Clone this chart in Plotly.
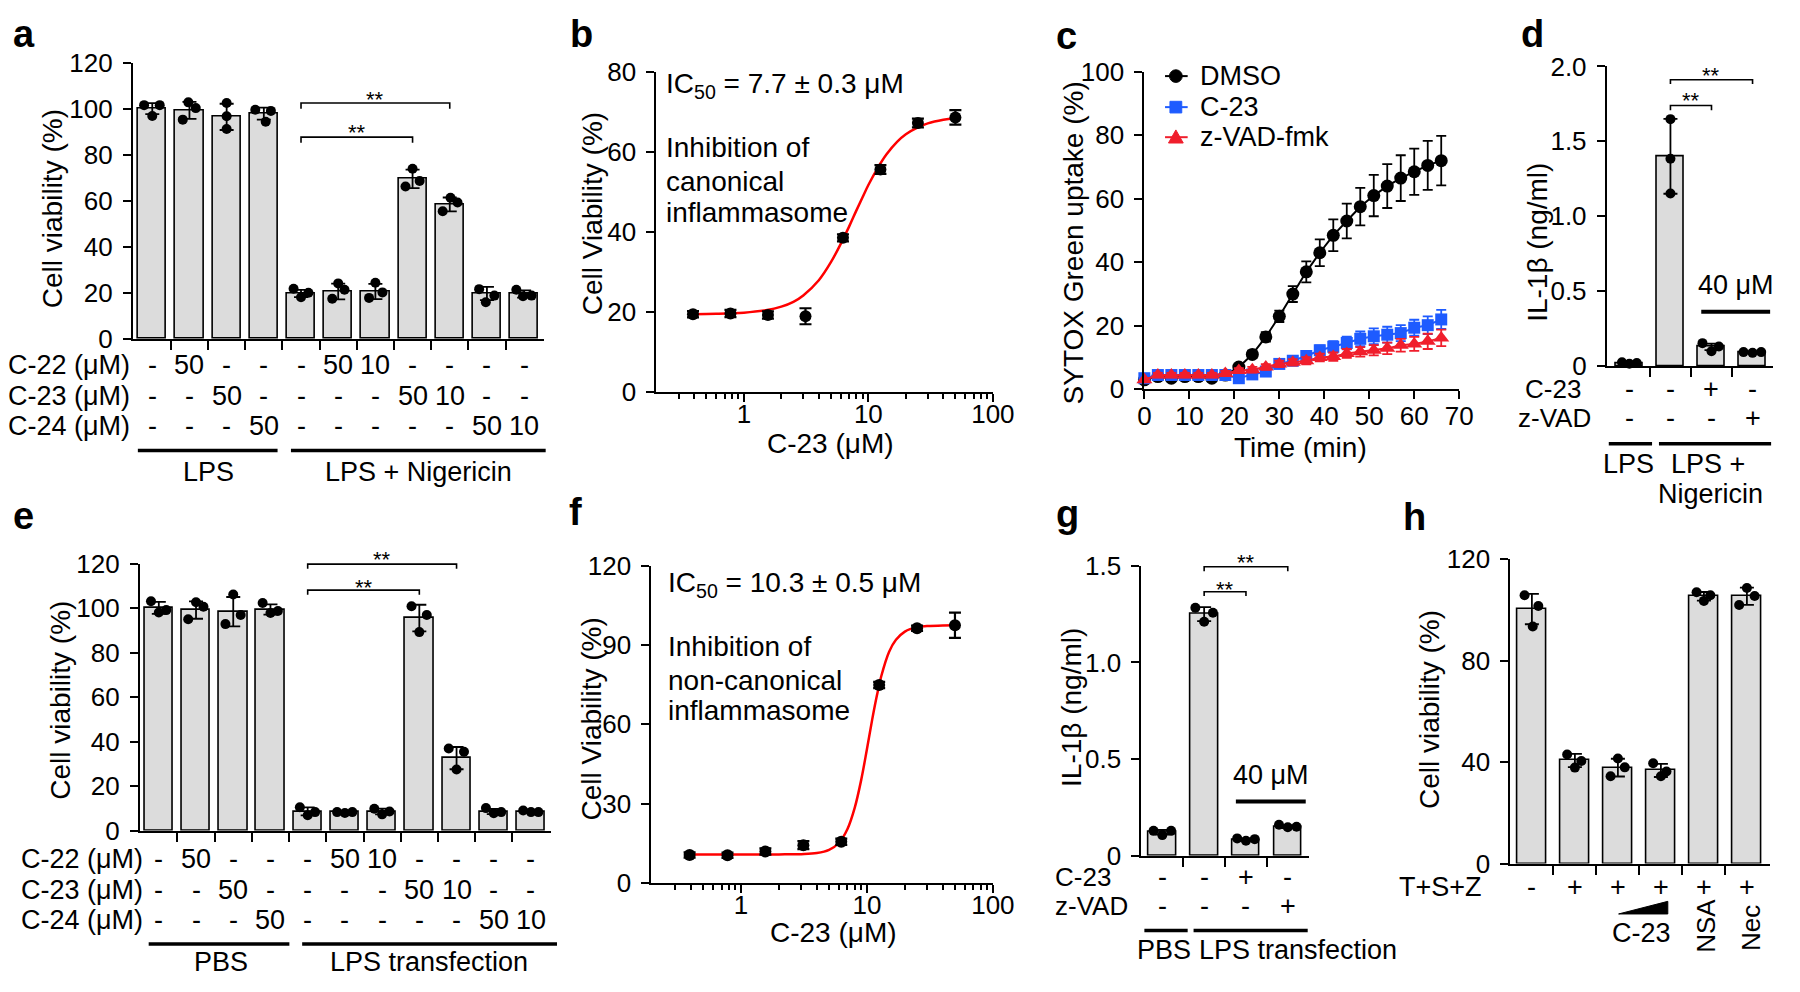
import plotly.graph_objects as go

W, H = 1800, 992
FONT = "Liberation Sans, Arial, Helvetica, sans-serif"
FILL = "#DCDCDC"
BLUE = "#1E5BFF"
RED = "#F01E2C"
CURVE = "#FF0000"

# ======================= DATA =======================
# --- a: canonical inflammasome (LPS / LPS + Nigericin), cell viability (%)
a_means = [100.0, 99.2, 96.4, 97.8, 19.7, 20.6, 20.6, 69.5, 58.4, 19.7, 19.5]
a_sd = [2.4, 3.7, 5.7, 2.6, 1.6, 3.4, 3.3, 4.0, 3.0, 2.9, 1.6]
a_points = [[101.5, 96.8, 101.5], [95.2, 102.7, 100.2], [102.4, 96.7, 91.1],
            [99.5, 94.3, 99.0], [21.8, 18.1, 20.0], [17.4, 24.1, 21.3],
            [17.8, 24.4, 20.2], [66.2, 73.9, 68.6], [55.4, 61.3, 59.2],
            [21.6, 15.9, 18.8], [21.3, 18.5, 18.8]]
a_c22 = ["-", "50", "-", "-", "-", "50", "10", "-", "-", "-", "-"]
a_c23 = ["-", "-", "50", "-", "-", "-", "-", "50", "10", "-", "-"]
a_c24 = ["-", "-", "-", "50", "-", "-", "-", "-", "-", "50", "10"]
a_rows = ["C-22 (μM)", "C-23 (μM)", "C-24 (μM)"]
a_groups = ["LPS", "LPS + Nigericin"]

# --- b: dose response, canonical
b_conc = [0.39, 0.78, 1.56, 3.125, 6.25, 12.5, 25, 50]
b_viab = [19.5, 19.7, 19.3, 19.0, 38.6, 55.7, 67.3, 68.7]
b_sd = [0.8, 0.9, 0.9, 2.0, 0.9, 1.1, 1.1, 1.8]
b_fit_x = [0.39, 0.6, 1, 1.5, 2, 2.5, 3, 4, 5, 6, 7, 8, 9, 10, 12, 14, 17, 20, 25, 30, 40, 50]
b_fit_y = [19.5, 19.6, 19.9, 20.5, 21.4, 22.6, 24.2, 28.0, 32.5, 37.1, 41.4, 45.4, 48.8,
           51.8, 56.3, 59.5, 62.6, 64.5, 66.2, 67.2, 68.1, 68.5]

# --- c: SYTOX Green uptake time course
c_time = [0, 3, 6, 9, 12, 15, 18, 21, 24, 27, 30, 33, 36, 39, 42, 45, 48, 51, 54, 57, 60, 63, 66]
c_dmso = [3.0, 4.0, 3.5, 4.0, 4.0, 3.5, 4.5, 7.0, 11.0, 16.5, 23.0, 30.0, 37.0, 43.0,
          48.5, 53.0, 57.5, 61.0, 64.0, 66.5, 68.5, 70.5, 72.0]
c_dmso_sd = [0.8, 0.8, 0.8, 0.8, 0.8, 0.8, 0.8, 1.0, 1.2, 1.5, 1.8, 2.5, 3.3, 4.2,
             5.0, 5.5, 5.9, 6.5, 6.9, 7.2, 7.3, 7.7, 7.8]
c_c23 = [3.5, 4.5, 4.5, 4.5, 4.5, 4.5, 4.5, 3.5, 4.7, 5.6, 8.0, 9.0, 10.5, 12.3,
         13.4, 14.6, 15.9, 16.7, 17.2, 17.7, 19.4, 20.2, 22.0]
c_c23_sd = [0.8, 0.8, 0.8, 0.8, 0.8, 0.8, 0.8, 0.8, 0.9, 1.0, 1.0, 1.2, 1.3, 1.5,
            1.8, 2.0, 2.3, 2.5, 2.5, 2.5, 2.5, 2.8, 3.0]
c_zvad = [3.0, 4.5, 4.5, 4.5, 4.5, 4.5, 5.0, 5.9, 6.2, 7.0, 8.0, 8.5, 9.0, 10.0,
          10.3, 11.3, 11.8, 12.3, 12.9, 13.9, 14.3, 15.1, 16.2]
c_zvad_sd = [0.6, 0.7, 0.7, 0.7, 0.7, 0.7, 0.8, 0.8, 0.9, 0.9, 1.0, 1.0, 1.1, 1.2,
             1.3, 1.4, 1.5, 1.6, 1.8, 2.0, 2.2, 2.4, 2.6]
c_names = ["DMSO", "C-23", "z-VAD-fmk"]

# --- d: IL-1β, canonical
d_means = [0.02, 1.40, 0.128, 0.092]
d_sd = [0.006, 0.25, 0.022, 0.004]
d_points = [[0.025, 0.015, 0.02], [1.648, 1.383, 1.152], [0.153, 0.099, 0.131], [0.093, 0.088, 0.093]]
d_c23 = ["-", "-", "+", "-"]
d_zvad = ["-", "-", "-", "+"]

# --- e: non-canonical (PBS / LPS transfection)
e_means = [100.2, 99.2, 98.5, 99.5, 8.6, 8.3, 8.6, 95.6, 32.6, 8.6, 8.6]
e_sd = [2.7, 3.9, 6.6, 2.3, 1.8, 0.3, 1.3, 6.0, 5.0, 1.2, 0.5]
e_points = [[103.2, 98.1, 99.2], [95.1, 102.7, 100.7], [92.9, 106.2, 97.0],
            [102.4, 97.9, 98.8], [10.5, 6.9, 8.3], [8.3, 7.9, 8.3], [9.8, 7.3, 8.6],
            [100.9, 89.3, 97.0], [36.9, 27.5, 35.5], [10.1, 7.8, 8.3], [9.0, 8.3, 8.3]]
e_c22 = ["-", "50", "-", "-", "-", "50", "10", "-", "-", "-", "-"]
e_c23 = ["-", "-", "50", "-", "-", "-", "-", "50", "10", "-", "-"]
e_c24 = ["-", "-", "-", "50", "-", "-", "-", "-", "-", "50", "10"]
e_groups = ["PBS", "LPS transfection"]

# --- f: dose response, non-canonical
f_conc = [0.39, 0.78, 1.56, 3.125, 6.25, 12.5, 25, 50]
f_viab = [10.6, 10.5, 11.9, 14.3, 15.6, 74.9, 96.4, 97.5]
f_sd = [1.0, 1.0, 1.2, 1.5, 1.2, 1.2, 1.0, 4.8]
f_fit_x = [0.39, 1, 2, 3, 4, 5, 6, 7, 8, 9, 10, 11, 12, 13, 15, 17, 20, 25, 30, 40, 50]
f_fit_y = [10.8, 10.8, 10.8, 10.9, 11.3, 12.5, 15.2, 20.4, 28.5, 39.0, 50.7, 61.8,
           71.0, 78.3, 87.5, 92.0, 95.1, 96.8, 97.2, 97.45, 97.5]

# --- g: IL-1β, non-canonical
g_means = [0.122, 1.250, 0.083, 0.150]
g_sd = [0.012, 0.036, 0.006, 0.007]
g_points = [[0.129, 0.107, 0.129], [1.283, 1.211, 1.257], [0.090, 0.078, 0.086], [0.161, 0.148, 0.150]]
g_c23 = ["-", "-", "+", "-"]
g_zvad = ["-", "-", "-", "+"]

# --- h: necroptosis (T+S+Z)
h_means = [100.3, 40.6, 37.8, 36.7, 105.3, 105.3]
h_sd = [6.0, 2.6, 3.5, 2.6, 1.7, 3.4]
h_points = [[105.7, 93.4, 101.5], [43.0, 37.8, 40.4], [34.4, 41.4, 37.9],
            [39.5, 34.4, 36.3], [106.9, 103.5, 105.7], [101.9, 108.6, 105.4]]
h_tsz = ["-", "+", "+", "+", "+", "+"]

# ======================= STYLE / GEOMETRY =======================
a_jit = [[-0.22, 0, 0.2], [-0.18, -0.03, 0.17], [0, 0, 0], [-0.23, 0.05, 0.19],
         [-0.2, 0, 0.2], [-0.16, 0, 0.17], [-0.17, 0, 0.19], [-0.19, 0, 0.19],
         [-0.19, 0.02, 0.21], [-0.21, -0.03, 0.2], [-0.21, -0.03, 0.2]]
e_jit = [[-0.21, 0, 0.2]] * 11
d_jit = [[-0.18, 0, 0.18], [0, 0, 0], [-0.22, 0, 0.18], [-0.22, 0, 0.21]]
g_jit = [[-0.21, 0, 0.21]] * 4
h_jit = [[-0.17, 0.02, 0.15], [-0.18, 0, 0.15], [-0.17, 0, 0.16],
         [-0.18, 0, 0.13], [-0.17, 0, 0.15], [-0.18, 0, 0.18]]

G = {
    1: dict(x0=128, x1=546, yt=49, yb=334, xr=[-0.52, 10.54], yr=[0, 120]),
    2: dict(x0=660, x1=1002, yt=59, yb=389, xr=[-0.703, 2.0], yr=[0, 80]),
    3: dict(x0=1156, x1=1476, yt=58.5, yb=386, xr=[0, 70], yr=[0, 100]),
    4: dict(x0=1626, x1=1795, yt=53, yb=362, xr=[-0.55, 3.5], yr=[0, 2.0]),
    5: dict(x0=135, x1=553, yt=566, yb=841, xr=[-0.51, 10.54], yr=[0, 120]),
    6: dict(x0=655, x1=1002, yt=568, yb=895, xr=[-0.712, 2.0], yr=[0, 120]),
    7: dict(x0=1153, x1=1323, yt=568, yb=867, xr=[-0.5, 3.5], yr=[0, 1.5]),
    8: dict(x0=1528, x1=1792, yt=561, yb=875, xr=[-0.5, 5.54], yr=[0, 120]),
}
TICK = 26
ROW = 27

fig = go.Figure()
shapes, anns = [], []


def ids(n):
    return ("x", "y") if n == 1 else (f"x{n}", f"y{n}")


def gx(n, v):
    g = G[n]
    r0, r1 = g["xr"]
    return g["x0"] + (v - r0) / (r1 - r0) * (g["x1"] - g["x0"])


def gy(n, v):
    g = G[n]
    r0, r1 = g["yr"]
    return g["yb"] - (v - r0) / (r1 - r0) * (g["yb"] - g["yt"])


def T(text, x, y, size=ROW, xa="center", ya="middle", angle=0, bold=False):
    anns.append(dict(text=("<b>%s</b>" % text) if bold else text, x=x / W, y=1 - y / H,
                     xref="paper", yref="paper", xanchor=xa, yanchor=ya, textangle=angle,
                     showarrow=False, font=dict(family=FONT, size=size, color="black")))


def hline(x0, x1, y, w=3.5, color="black"):
    shapes.append(dict(type="line", xref="paper", yref="paper", x0=x0 / W, x1=x1 / W,
                       y0=1 - y / H, y1=1 - y / H, line=dict(color=color, width=w)))


def bracket(n, i0, i1, yh, yl, star_y):
    X0, X1, YH, YL = gx(n, i0), gx(n, i1), gy(n, yh), gy(n, yl)
    p = "M %f,%f L %f,%f L %f,%f L %f,%f" % (X0 / W, 1 - YL / H, X0 / W, 1 - YH / H,
                                             X1 / W, 1 - YH / H, X1 / W, 1 - YL / H)
    shapes.append(dict(type="path", xref="paper", yref="paper", path=p,
                       line=dict(color="black", width=1.6)))
    T("**", (X0 + X1) / 2, star_y + 5, size=22)


def base_axis(**kw):
    d = dict(showline=True, linecolor="black", linewidth=2, ticks="outside", ticklen=8,
             tickwidth=2, tickcolor="black", showgrid=False, zeroline=False,
             tickfont=dict(family=FONT, size=TICK, color="black"), fixedrange=True)
    d.update(kw)
    return d


layout_axes = {}


def set_axes(n, xkw, ykw):
    g = G[n]
    xa, ya = ids(n)
    kx = "xaxis" if n == 1 else f"xaxis{n}"
    ky = "yaxis" if n == 1 else f"yaxis{n}"
    layout_axes[kx] = base_axis(domain=[g["x0"] / W, g["x1"] / W], anchor=ya, range=g["xr"], **xkw)
    layout_axes[ky] = base_axis(domain=[1 - g["yb"] / H, 1 - g["yt"] / H], anchor=xa,
                                range=g["yr"], ticklabelstandoff=5, **ykw)


def bar_panel(n, means, sd, pts, jit, width, yticks, yticktext=None):
    xa, ya = ids(n)
    xs = list(range(len(means)))
    fig.add_trace(go.Bar(x=xs, y=means, width=width, xaxis=xa, yaxis=ya, showlegend=False,
                         marker=dict(color=FILL, line=dict(color="black", width=1.6)),
                         hoverinfo="skip"))
    fig.add_trace(go.Scatter(x=xs, y=means, mode="markers", xaxis=xa, yaxis=ya, showlegend=False,
                             marker=dict(size=2, color="rgba(0,0,0,0)"), cliponaxis=False,
                             error_y=dict(type="data", array=sd, visible=True, color="black",
                                          thickness=1.8, width=7)))
    dx, dy = [], []
    for i, (vals, jj) in enumerate(zip(pts, jit)):
        for v, j in zip(vals, jj):
            dx.append(i + j)
            dy.append(v)
    fig.add_trace(go.Scatter(x=dx, y=dy, mode="markers", xaxis=xa, yaxis=ya, showlegend=False,
                             marker=dict(size=10, color="black"), cliponaxis=False))
    set_axes(n,
             dict(type="linear", tickvals=[i + 0.5 for i in range(len(means) - 1)],
                  showticklabels=False, ticklen=9),
             dict(tickvals=yticks, ticktext=yticktext if yticktext else [str(v) for v in yticks]))


def dose_panel(n, conc, viab, sd, fx, fy, yticks):
    xa, ya = ids(n)
    fig.add_trace(go.Scatter(x=fx, y=fy, mode="lines", line=dict(color=CURVE, width=2.5, shape="spline"),
                             xaxis=xa, yaxis=ya, showlegend=False))
    fig.add_trace(go.Scatter(x=conc, y=viab, mode="markers", xaxis=xa, yaxis=ya, showlegend=False,
                             marker=dict(size=12, color="black"), cliponaxis=False,
                             error_y=dict(type="data", array=sd, visible=True, color="black",
                                          thickness=2.2, width=6)))
    minor_vals = [0.3, 0.4, 0.5, 0.6, 0.7, 0.8, 0.9, 2, 3, 4, 5, 6, 7, 8, 9,
                  20, 30, 40, 50, 60, 70, 80, 90]
    set_axes(n,
             dict(type="log", tickvals=[1, 10, 100], ticktext=["1", "10", "100"],
                  ticklabelstandoff=-10,
                  minor=dict(ticks="outside", ticklen=5, tickwidth=1.6, tickcolor="black",
                             tickvals=minor_vals, showgrid=False)),
             dict(tickvals=yticks, ticktext=[str(v) for v in yticks]))


# ---------------- panel a ----------------
bar_panel(1, a_means, a_sd, a_points, a_jit, 0.76, [0, 20, 40, 60, 80, 100, 120])
for row, vals, yy in zip(a_rows, [a_c22, a_c23, a_c24], [361, 392.5, 424]):
    T(row, 127, yy, xa="right")
    for i, v in enumerate(vals):
        T(v, gx(1, i), yy)
hline(133, 275, 449)
hline(288.6, 547.5, 449)
T(a_groups[0], 205, 471, size=27)
T(a_groups[1], 418, 471, size=27)
bracket(1, 4, 8, 102.4, 99.9, 81.7)
bracket(1, 4, 7, 87.6, 85.2, 116)
T("Cell viability (%)", 47, 200, size=28, angle=-90)

# ---------------- panel b ----------------
dose_panel(2, b_conc, b_viab, b_sd, b_fit_x, b_fit_y, [0, 20, 40, 60, 80])
T("Cell Viability (%)", 595, 205, size=28, angle=-90)
T("C-23 (μM)", 837, 442, size=28)
T("IC<sub>50</sub> = 7.7 ± 0.3 μM", 668, 73, size=28, xa="left")
T("Inhibition of", 668, 137, size=28, xa="left")
T("canonical", 668, 172, size=28, xa="left")
T("inflammasome", 668, 204, size=28, xa="left")

# ---------------- panel c ----------------
c_styles = [("black", "circle", 13), (BLUE, "square", 12), (RED, "triangle-up", 14)]
for name, ys, sds, (col, sym, msz) in zip(c_names, [c_dmso, c_c23, c_zvad],
                                          [c_dmso_sd, c_c23_sd, c_zvad_sd], c_styles):
    fig.add_trace(go.Scatter(x=c_time, y=ys, mode="lines+markers", name=name,
                             line=dict(color=col, width=2), cliponaxis=False,
                             marker=dict(symbol=sym, size=msz, color=col),
                             error_y=dict(type="data", array=sds, visible=True, color=col,
                                          thickness=1.8, width=5),
                             xaxis="x3", yaxis="y3", showlegend=False))
set_axes(3, dict(tickvals=[0, 10, 20, 30, 40, 50, 60, 70], ticklabelstandoff=-6),
         dict(tickvals=[0, 20, 40, 60, 80, 100]))
T("SYTOX Green uptake (%)", 1084, 235, size=28, angle=-90)
T("Time (min)", 1315, 446, size=28)
# legend (key glyphs + labels)
for k, (name, (col, sym, msz)) in enumerate(zip(c_names, c_styles)):
    ly = [63, 95, 126][k]
    cx = 1188
    hline(1177, 1200, ly, w=2, color=col)
    if sym == "circle":
        shapes.append(dict(type="circle", xref="paper", yref="paper", x0=(cx - 6.5) / W, x1=(cx + 6.5) / W,
                           y0=1 - (ly + 6.5) / H, y1=1 - (ly - 6.5) / H, fillcolor=col, line=dict(color=col, width=1)))
    elif sym == "square":
        shapes.append(dict(type="rect", xref="paper", yref="paper", x0=(cx - 6) / W, x1=(cx + 6) / W,
                           y0=1 - (ly + 6) / H, y1=1 - (ly - 6) / H, fillcolor=col, line=dict(color=col, width=1)))
    else:
        shapes.append(dict(type="path", xref="paper", yref="paper",
                           path="M %f,%f L %f,%f L %f,%f Z" % ((cx - 7.5) / W, 1 - (ly + 6) / H,
                                                              (cx + 7.5) / W, 1 - (ly + 6) / H,
                                                              cx / W, 1 - (ly - 7.5) / H),
                           fillcolor=col, line=dict(color=col, width=1)))
    T(name, 1210, ly, size=27, xa="left")

# ---------------- panel d ----------------
bar_panel(4, d_means, d_sd, d_points, d_jit, 0.65, [0, 0.5, 1.0, 1.5, 2.0],
          ["0", "0.5", "1.0", "1.5", "2.0"])
bracket(4, 1, 3, 1.911, 1.883, 57.3)
bracket(4, 1, 2, 1.739, 1.707, 83.3)
T("40 μM", 1757, 278, size=27)
hline(1722, 1792, 306, w=4)
T("C-23", 1571, 386, size=26)
T("z-VAD", 1573, 416, size=26)
for i, (v1, v2) in enumerate(zip(d_c23, d_zvad)):
    T(v1, gx(4, i), 386)
    T(v2, gx(4, i), 416)
hline(1628, 1672, 442)
hline(1679, 1793, 442)
T("LPS", 1648, 463, size=27)
T("LPS +", 1729, 463, size=27)
T("Nigericin", 1731, 494, size=27)
T("IL-1β (ng/ml)", 1556, 234, size=28, angle=-90)

# ---------------- panel e ----------------
bar_panel(5, e_means, e_sd, e_points, e_jit, 0.76, [0, 20, 40, 60, 80, 100, 120])
for row, vals, yy in zip(a_rows, [e_c22, e_c23, e_c24], [870, 902, 933]):
    T(row, 140, yy, xa="right")
    for i, v in enumerate(vals):
        T(v, gx(5, i), yy)
hline(144, 287, 958)
hline(300, 559, 958)
T(e_groups[0], 218, 977, size=27)
T(e_groups[1], 429, 977, size=27)
bracket(5, 4, 8, 119.9, 117.8, 556.7)
bracket(5, 4, 7, 108.2, 106.1, 585)
T("Cell viability (%)", 55, 707, size=28, angle=-90)

# ---------------- panel f ----------------
dose_panel(6, f_conc, f_viab, f_sd, f_fit_x, f_fit_y, [0, 30, 60, 90, 120])
T("Cell Viability (%)", 594, 726, size=28, angle=-90)
T("C-23 (μM)", 840, 946, size=28)
T("IC<sub>50</sub> = 10.3 ± 0.5 μM", 670, 587, size=28, xa="left")
T("Inhibition of", 670, 651, size=28, xa="left")
T("non-canonical", 670, 686, size=28, xa="left")
T("inflammasome", 670, 717, size=28, xa="left")

# ---------------- panel g ----------------
bar_panel(7, g_means, g_sd, g_points, g_jit, 0.66, [0, 0.5, 1.0, 1.5], ["0", "0.5", "1.0", "1.5"])
bracket(7, 1, 3, 1.495, 1.472, 559.3)
bracket(7, 1, 2, 1.366, 1.344, 587.3)
T("40 μM", 1285, 784, size=27)
hline(1249, 1320, 811, w=4)
T("C-23", 1063, 889, xa="left", size=26)
T("z-VAD", 1063, 919, xa="left", size=26)
for i, (v1, v2) in enumerate(zip(g_c23, g_zvad)):
    T(v1, gx(7, i), 889)
    T(v2, gx(7, i), 919)
hline(1156, 1200, 944)
hline(1206, 1322, 944)
T("PBS", 1176, 964, size=27)
T("LPS transfection", 1312, 964, size=27)
T("IL-1β (ng/ml)", 1082, 714, size=28, angle=-90)

# ---------------- panel h ----------------
bar_panel(8, h_means, h_sd, h_points, h_jit, 0.67, [0, 40, 80, 120])
T("T+S+Z", 1501, 899, xa="right", size=27)
for i, v in enumerate(h_tsz):
    T(v, gx(8, i), 899)
shapes.append(dict(type="path", xref="paper", yref="paper",
                   path="M %f,%f L %f,%f L %f,%f Z" % (1638 / W, 1 - 927 / H, 1688 / W, 1 - 927 / H,
                                                      1688 / W, 1 - 914 / H),
                   fillcolor="black", line=dict(color="black", width=1)))
T("C-23", 1661, 947, size=27)
T("NSA", 1726, 939, size=26, angle=-90)
T("Nec", 1772, 941, size=26, angle=-90)
T("Cell viability (%)", 1446, 716, size=28, angle=-90)

# ---------------- panel letters ----------------
for letter, lx, ly in [("a", 17, 20), ("b", 584, 20), ("c", 1077, 22), ("d", 1550, 20),
                       ("e", 17, 517), ("f", 578, 513), ("g", 1078, 515), ("h", 1431, 518)]:
    T(letter, lx, ly, size=38, bold=True)

fig.update_layout(
    width=W, height=H, autosize=False,
    margin=dict(l=0, r=0, t=0, b=0),
    paper_bgcolor="white", plot_bgcolor="rgba(0,0,0,0)",
    font=dict(family=FONT, color="black"),
    showlegend=False,
    shapes=shapes, annotations=anns, bargap=0,
    **layout_axes,
)

fig.write_html("out.html", config={"displayModeBar": False},
               post_script="document.body.style.margin='0';document.body.style.overflow='hidden';")
